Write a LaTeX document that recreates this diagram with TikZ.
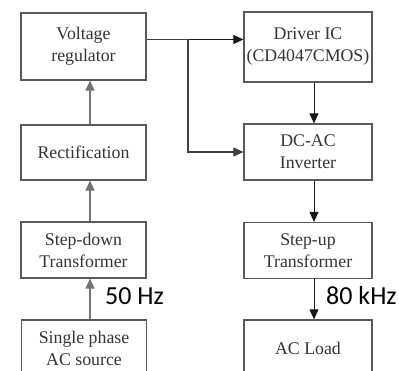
\documentclass[tikz,border=0pt]{standalone}
\usepackage{fontspec}
\setmainfont{Liberation Serif}
\newfontfamily\lblfont{Carlito}
\usetikzlibrary{arrows.meta}

\begin{document}
\begin{tikzpicture}[x=1pt,y=-1pt,>={Triangle[length=10pt,width=9pt]},line cap=butt,line join=miter,
  box/.style={draw=black!65,line width=1.2pt,minimum width=125pt,text=black!80,align=center,
    font=\fontsize{17.8}{22}\selectfont,inner xsep=0pt},
  lflow/.style={->,draw=black!55,fill=black!55,line width=1.1pt},
  rflow/.style={->,draw=black!90,line width=1pt}]
  % Page frame (the lower two boxes run off the bottom)
  \useasboundingbox (0,0) rectangle (399,371);
  \clip (0,0) rectangle (399,371);

  % Left column
  \node[box,minimum height=67pt] (vreg) at (83.5,46.5) {Voltage\\regulator};
  \node[box,minimum height=55pt] (rect) at (83.5,152.5) {Rectification};
  \node[box,minimum height=56pt] (sdown) at (83.5,250) {Step-down\\Transformer};
  \node[box,minimum height=56pt] (src) at (84,348) {Single phase\\AC source};

  % Right column
  \node[box,minimum width=128pt,minimum height=70pt] (drv) at (308,47) {Driver IC\\(CD4047CMOS)};
  \node[box,minimum width=128pt,minimum height=56pt] (inv) at (308,152) {DC-AC\\Inverter};
  \node[box,minimum width=128pt,minimum height=56pt] (sup) at (308,250.5) {Step-up\\Transformer};
  \node[box,minimum width=128pt,minimum height=56pt] (load) at (308,348) {AC Load};

  % Helper coordinates for the flow lines
  \coordinate (colL) at (90,0);
  \coordinate (colR) at (314,0);
  \coordinate (row) at (0,39.5);
  \coordinate (br) at (188,39.5);

  % Upward flow on the left
  \draw[lflow] (src.north -| colL) -- (sdown.south -| colL);
  \draw[lflow] (sdown.north -| colL) -- (rect.south -| colL);
  \draw[lflow] (rect.north -| colL) -- (vreg.south -| colL);

  % Regulator output feeds the driver and the inverter
  \draw[draw=black!75,line width=1.1pt] (vreg.east |- row) -- (br);
  \draw[rflow] (br) -- (drv.west |- row);
  \draw[draw=black!75,line width=1.1pt,->] (br) |- (inv.west);

  % Downward flow on the right
  \draw[rflow] (drv.south -| colR) -- (inv.north -| colR);
  \draw[rflow] (inv.south -| colR) -- (sup.north -| colR);
  \draw[rflow] (sup.south -| colR) -- (load.north -| colR);

  % Frequency labels
  \node[anchor=base west,font=\lblfont\fontsize{26}{31}\selectfont,inner sep=0pt] (f50) at (105,305) {50 Hz};
  \node[anchor=base west,font=\lblfont\fontsize{26}{31}\selectfont,inner sep=0pt] (f80) at (326,305) {80 kHz};
\end{tikzpicture}
\end{document}
